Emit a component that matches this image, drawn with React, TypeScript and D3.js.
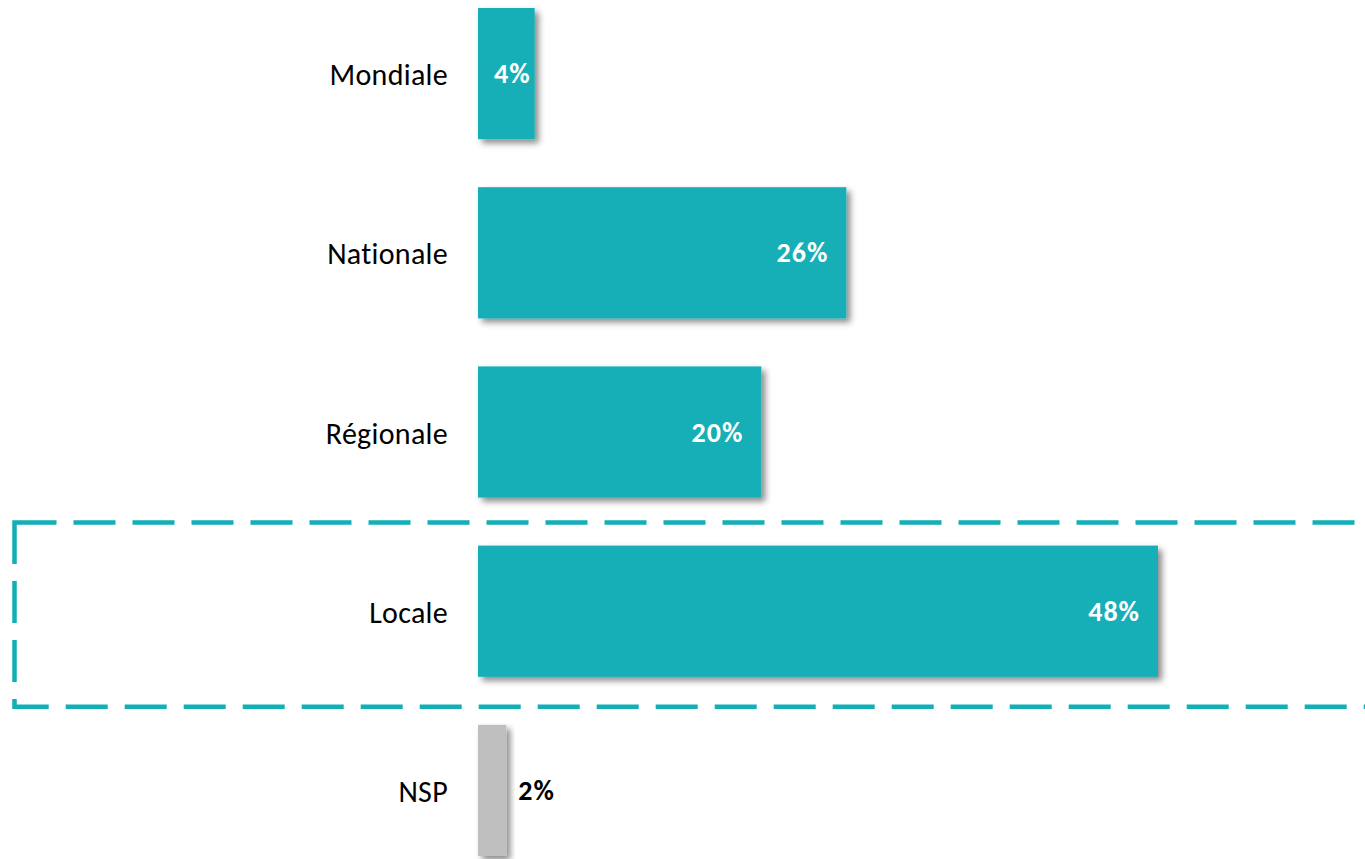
import React from "react";
import * as d3 from "d3";

const categories = ["Mondiale", "Nationale", "Régionale", "Locale", "NSP"];
const values = [4, 26, 20, 48, 2];
const highlighted = "Locale";

const W = 1365;
const H = 859;
const TEAL = "#12AFB7";
const GREY = "#BFBFBF";
const FONT = "Carlito, Calibri, 'Open Sans', 'Noto Sans', sans-serif";

const App: React.FC = () => {
  const x = d3.scaleLinear().domain([0, 48]).range([478, 1158]);
  const y = d3
    .scaleBand<string>()
    .domain(categories)
    .range([8, 856])
    .paddingInner(0.268)
    .paddingOuter(0);

  const hy = y(highlighted)!;
  const pad = (y.step() - y.bandwidth()) / 2;

  return (
    <svg
      width={W}
      height={H}
      style={{ position: "absolute", left: 0, top: 0 }}
      fontFamily={FONT}
    >
      <defs>
        <filter id="shadow" x="-20%" y="-20%" width="150%" height="150%">
          <feDropShadow dx="4" dy="4" stdDeviation="3" floodColor="#000" floodOpacity="0.45" />
        </filter>
      </defs>

      {categories.map((c, i) => {
        const v = values[i];
        const isNsp = c === "NSP";
        const by = y(c)!;
        const bw = x(v) - x(0);
        const cy = by + y.bandwidth() / 2;
        const inset = bw > 120 ? 18 : 4;
        return (
          <g key={c}>
            <rect
              x={x(0)}
              y={by}
              width={bw}
              height={y.bandwidth()}
              fill={isNsp ? GREY : TEAL}
              filter="url(#shadow)"
            />
            <text
              x={x(0) - 30}
              y={cy + 1}
              textAnchor="end"
              dominantBaseline="central"
              fontSize={30}
              letterSpacing={0.3}
              fill="#000"
            >
              {c}
            </text>
            {isNsp ? (
              <text
                x={x(v) + 12}
                y={cy}
                dominantBaseline="central"
                fontSize={28}
                letterSpacing={1}
                fontWeight="bold"
                fill="#000"
              >
                {v}%
              </text>
            ) : (
              <text
                x={x(v) - inset}
                y={cy}
                textAnchor="end"
                dominantBaseline="central"
                fontSize={28}
                letterSpacing={1}
                fontWeight="bold"
                fill="#fff"
              >
                {v}%
              </text>
            )}
          </g>
        );
      })}

      <rect
        x={14.5}
        y={hy - pad + 1}
        width={1400}
        height={y.step() + 5}
        fill="none"
        stroke={TEAL}
        strokeWidth={4.5}
        strokeDasharray="42 17"
      />
    </svg>
  );
};

export default App;
